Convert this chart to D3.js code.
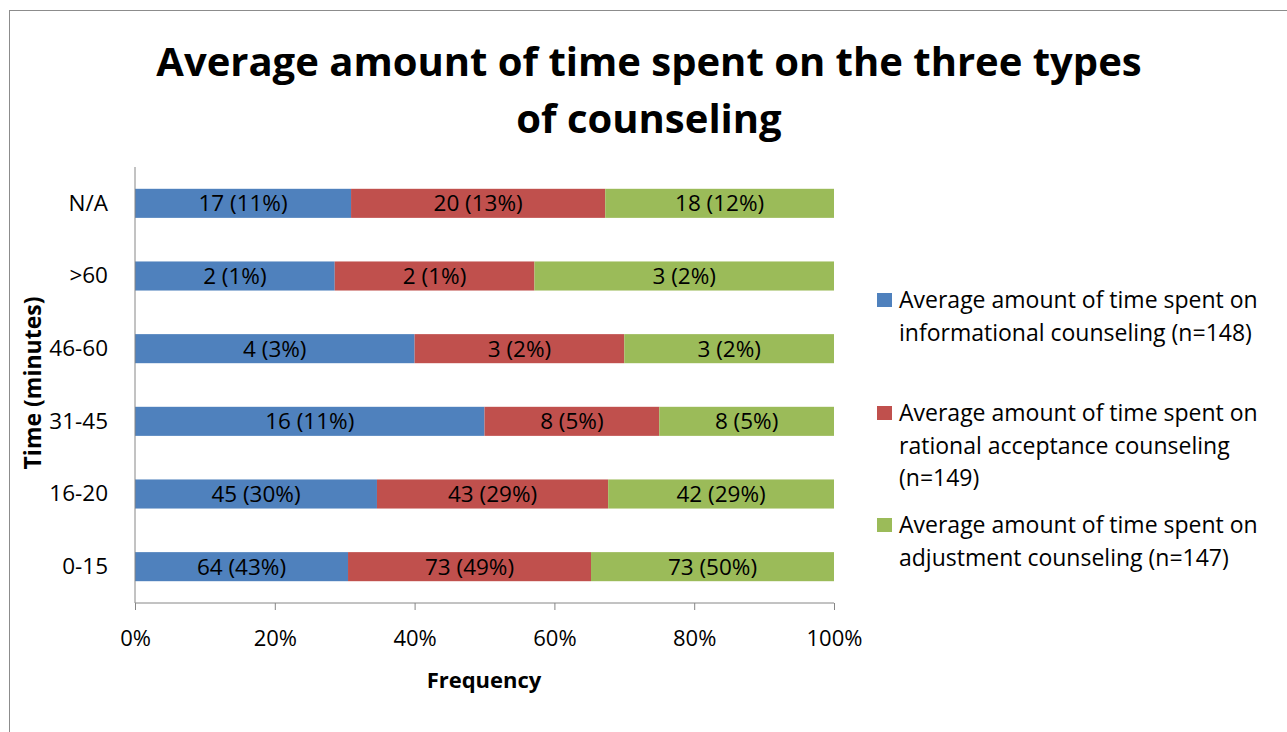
<!DOCTYPE html>
<html>
<head>
<meta charset="utf-8">
<script src="https://cdn.jsdelivr.net/npm/d3@7"></script>
<style>
  html, body { margin: 0; padding: 0; background: #fff; }
  svg { display: block; }
  text { font-family: "Open Sans", Lato, sans-serif; fill: #000; }
</style>
</head>
<body>
<svg id="chart" width="1287" height="732"></svg>
<script>
// Time bins, bottom to top
const categories = ["0-15", "16-20", "31-45", "46-60", ">60", "N/A"];

// Counts per time bin for each counseling type
const informational = [64, 45, 16, 4, 2, 17];
const rational      = [73, 43, 8, 3, 2, 20];
const adjustment    = [73, 42, 8, 3, 3, 18];

// Percent of each type's respondents (shown in labels)
const informationalPct = [43, 30, 11, 3, 1, 11];
const rationalPct      = [49, 29, 5, 2, 1, 13];
const adjustmentPct    = [50, 29, 5, 2, 2, 12];

const seriesNames = [
  ["Average amount of time spent on", "informational counseling (n=148)"],
  ["Average amount of time spent on", "rational acceptance counseling", "(n=149)"],
  ["Average amount of time spent on", "adjustment counseling (n=147)"]
];
const xTicks = [0, 0.2, 0.4, 0.6, 0.8, 1];
const colors = ["#4F81BD", "#C0504D", "#9BBB59"];

const keys = ["informational", "rational", "adjustment"];
const counts = { informational, rational, adjustment };
const pcts = { informational: informationalPct, rational: rationalPct, adjustment: adjustmentPct };

const rows = categories.map((c, i) => ({
  cat: c, i,
  informational: informational[i],
  rational: rational[i],
  adjustment: adjustment[i]
}));

const stacked = d3.stack().keys(keys).offset(d3.stackOffsetExpand)(rows);

const svg = d3.select("#chart");
const FONT = "'Open Sans', Lato, sans-serif";

// outer frame
svg.append("rect")
  .attr("x", 9.5).attr("y", 10.5)
  .attr("width", 1300).attr("height", 760)
  .attr("fill", "none").attr("stroke", "#8c8c8c").attr("stroke-width", 1);

const plot = { left: 135, right: 834, top: 167, bottom: 603 };

const x = d3.scaleLinear().domain([0, 1]).range([plot.left, plot.right]);
const y = d3.scaleBand()
  .domain(categories.slice().reverse())
  .range([plot.top, plot.bottom])
  .paddingInner(0.6).paddingOuter(0.3);

// title
const title = svg.append("text")
  .attr("text-anchor", "middle")
  .attr("font-weight", "bold")
  .attr("font-size", 40);
title.append("tspan").attr("x", 649).attr("y", 76).text("Average amount of time spent on the three types");
title.append("tspan").attr("x", 649).attr("y", 133).text("of counseling");

// bars
const g = svg.append("g");
stacked.forEach((layer, si) => {
  const key = keys[si];
  g.selectAll(null)
    .data(layer)
    .join("rect")
    .attr("x", d => x(d[0]))
    .attr("width", d => x(d[1]) - x(d[0]))
    .attr("y", d => y(d.data.cat))
    .attr("height", y.bandwidth())
    .attr("fill", colors[si]);

  g.selectAll(null)
    .data(layer)
    .join("text")
    .attr("x", d => (x(d[0]) + x(d[1])) / 2)
    .attr("y", d => y(d.data.cat) + y.bandwidth() / 2)
    .attr("dy", "0.36em")
    .attr("text-anchor", "middle")
    .attr("font-size", 22.5)
    .text(d => `${counts[key][d.data.i]} (${pcts[key][d.data.i]}%)`);
});

// x axis
const xAxis = svg.append("g")
  .attr("transform", `translate(0,${plot.bottom})`)
  .call(d3.axisBottom(x).tickValues(xTicks).tickFormat(d3.format(".0%")).tickSize(7).tickPadding(20));
xAxis.select(".domain").attr("stroke", "#868686").attr("d", `M${plot.left},0H${plot.right}`);
xAxis.selectAll(".tick line").attr("stroke", "#868686");
xAxis.selectAll(".tick text").attr("font-size", 22).attr("font-family", FONT).attr("fill", "#000");

// y axis
const yAxis = svg.append("g")
  .attr("transform", `translate(${plot.left},0)`)
  .call(d3.axisLeft(y).tickSize(0).tickPadding(27));
yAxis.select(".domain").attr("stroke", "#868686").attr("d", `M0,${plot.top}V${plot.bottom}`);
yAxis.selectAll(".tick text").attr("font-size", 22.5).attr("font-family", FONT).attr("fill", "#000");

// axis titles
svg.append("text")
  .attr("x", 484).attr("y", 688)
  .attr("text-anchor", "middle")
  .attr("font-weight", "bold").attr("font-size", 22)
  .text("Frequency");
svg.append("text")
  .attr("transform", "translate(41,383) rotate(-90)")
  .attr("text-anchor", "middle")
  .attr("font-weight", "bold").attr("font-size", 23)
  .text("Time (minutes)");

// legend
const legendTops = [300, 413, 525];
seriesNames.forEach((lines, si) => {
  const lg = svg.append("g");
  lg.append("rect")
    .attr("x", 877).attr("y", legendTops[si] - 7)
    .attr("width", 15).attr("height", 14)
    .attr("fill", colors[si]);
  const t = lg.append("text").attr("font-size", 23);
  lines.forEach((ln, li) => {
    t.append("tspan").attr("x", 899).attr("y", legendTops[si] + li * 32.5).attr("dy", "0.36em").text(ln);
  });
});
</script>
</body>
</html>
